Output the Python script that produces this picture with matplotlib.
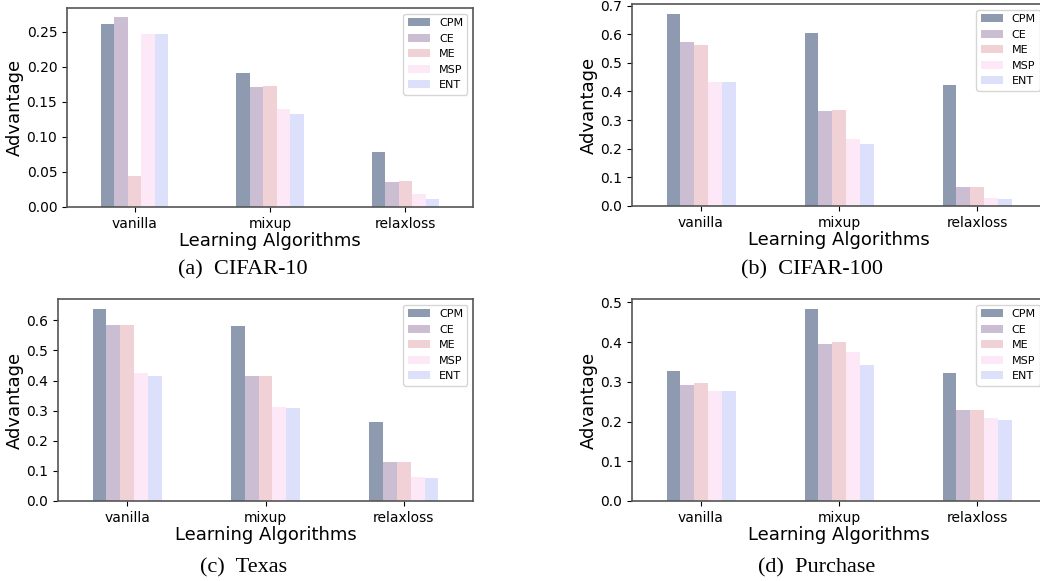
import matplotlib
matplotlib.use("Agg")
import matplotlib.pyplot as plt
from matplotlib.ticker import MultipleLocator
import numpy as np

algorithms = ["vanilla", "mixup", "relaxloss"]
methods = ["CPM", "CE", "ME", "MSP", "ENT"]
colors = ["#8E9AB0", "#CBBED3", "#F0D2D6", "#FDE8F8", "#DDE0FA"]

# values per method, ordered by algorithms
cifar10 = {
    "CPM": [0.260, 0.191, 0.078],
    "CE":  [0.270, 0.171, 0.035],
    "ME":  [0.044, 0.173, 0.037],
    "MSP": [0.246, 0.140, 0.018],
    "ENT": [0.246, 0.133, 0.011],
}
cifar100 = {
    "CPM": [0.672, 0.603, 0.422],
    "CE":  [0.572, 0.331, 0.065],
    "ME":  [0.561, 0.335, 0.065],
    "MSP": [0.432, 0.233, 0.027],
    "ENT": [0.432, 0.216, 0.023],
}
texas = {
    "CPM": [0.639, 0.580, 0.261],
    "CE":  [0.583, 0.414, 0.128],
    "ME":  [0.583, 0.414, 0.128],
    "MSP": [0.424, 0.311, 0.079],
    "ENT": [0.414, 0.308, 0.075],
}
purchase = {
    "CPM": [0.326, 0.484, 0.321],
    "CE":  [0.293, 0.396, 0.230],
    "ME":  [0.296, 0.401, 0.230],
    "MSP": [0.278, 0.376, 0.208],
    "ENT": [0.276, 0.341, 0.205],
}
captions = ["(a)  CIFAR-10", "(b)  CIFAR-100", "(c)  Texas", "(d)  Purchase"]
ytick_steps = [0.05, 0.1, 0.1, 0.1]

W, H = 1040, 581
fig = plt.figure(figsize=(W / 100, H / 100), dpi=100)

def add_ax(left, top, right, bottom):
    return fig.add_axes([left / W, 1 - bottom / H, (right - left) / W, (bottom - top) / H])

panels = [
    (cifar10, (67, 8, 473, 207), (243, 270)),
    (cifar100, (632, 4, 1046, 206), (812, 270)),
    (texas, (58, 299, 473, 501), (244, 568)),
    (purchase, (632, 299, 1046, 501), (817, 568)),
]

x = np.arange(len(algorithms))
bw = 0.1
for (data, box, cap), caption, step in zip(panels, captions, ytick_steps):
    ax = add_ax(*box)
    for i, (m, c) in enumerate(zip(methods, colors)):
        ax.bar(x + (i - 2) * bw, data[m], width=bw, color=c, label=m)
    ax.set_xlim(-0.5, 2.5)
    ax.margins(y=0.05)
    ax.set_ylim(bottom=0)
    ax.yaxis.set_major_locator(MultipleLocator(step))
    ax.set_xticks(x)
    ax.set_xticklabels(algorithms, fontsize=10)
    ax.tick_params(axis="y", labelsize=10)
    ax.set_xlabel("Learning Algorithms", fontsize=13, labelpad=1)
    ax.set_ylabel("Advantage", fontsize=13, labelpad=2)
    for s in ax.spines.values():
        s.set_color("#555555")
        s.set_linewidth(1.2)
    ax.legend(loc="upper right", fontsize=8, framealpha=0.8)
    fig.text(cap[0] / W, 1 - cap[1] / H, caption, ha="center", va="center",
             fontsize=16, family="Liberation Serif")

fig.savefig("out.png", dpi=100)
